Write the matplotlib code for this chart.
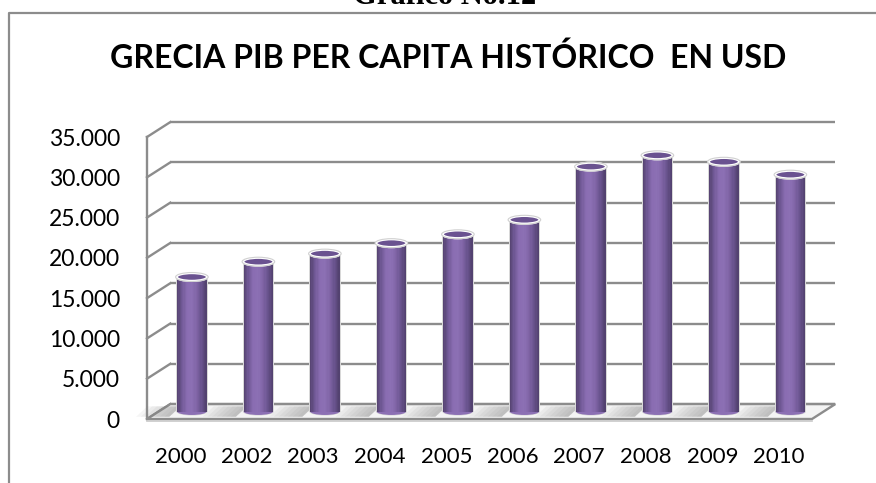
import matplotlib.pyplot as plt
import numpy as np
from matplotlib.patches import Ellipse, Polygon, Rectangle
from matplotlib.colors import LinearSegmentedColormap

# datos
anios = ['2000', '2002', '2003', '2004', '2005', '2006', '2007', '2008', '2009', '2010']
pib = [16700, 18600, 19600, 20900, 22000, 23800, 30400, 31800, 31000, 29400]
marcas = [0, 5000, 10000, 15000, 20000, 25000, 30000, 35000]
etiquetas = ['0', '5.000', '10.000', '15.000', '20.000', '25.000', '30.000', '35.000']

plt.rcParams['font.family'] = ['Lato', 'DejaVu Sans']

fig = plt.figure(figsize=(8.76, 4.83), dpi=100)
ax = fig.add_axes([147 / 876, 64 / 483, 665 / 876, 282 / 483])
ax.set_xlim(0, len(anios))
ax.set_ylim(0, 35000)
ax.patch.set_visible(False)
for s in ax.spines.values():
    s.set_visible(False)

# profundidad del efecto 3d (en unidades de datos)
DX = 0.35
DY = 1850
gris = '#8c8c8c'
n = len(anios)

# pared del fondo y pared izquierda
for m in marcas:
    ax.plot([DX, n + DX], [m + DY, m + DY], color=gris, lw=1.7, clip_on=False, zorder=1,
            solid_capstyle='butt')
    ax.plot([0, DX], [m, m + DY], color=gris, lw=1.7, clip_on=False, zorder=1)
ax.plot([0, 0], [0, 35000], color=gris, lw=1.7, clip_on=False, zorder=1)

# suelo
suelo = Polygon([(0, 0), (n, 0), (n + DX, DY), (DX, DY)], closed=True,
                facecolor='#f4f4f4', edgecolor=gris, lw=1.7, clip_on=False, zorder=2)
ax.add_patch(suelo)
ax.plot([0, n], [-250, -250], color='#c8c8c8', lw=1.2, clip_on=False, zorder=2)

# sombras en el suelo
w = 0.44
for i in range(n):
    cx = i + 0.5 + DX / 2
    for k in range(7):
        largo = 0.5 * (k + 1) / 7
        sx = cx - w / 2
        sh = Polygon([(sx - largo - 0.12, DY * 0.15), (sx - 0.12, DY * 0.15),
                      (sx + 0.05, DY * 0.85), (sx - largo + 0.05, DY * 0.85)],
                     closed=True, facecolor='#808080', edgecolor='none', alpha=0.08,
                     clip_on=False, zorder=3)
        ax.add_patch(sh)

# cilindros
cmap = LinearSegmentedColormap.from_list(
    'morado', ['#54426f', '#725a98', '#8a6db2', '#8c70b4', '#7f64a5', '#68528c', '#50406c'])
tiras = 24
eh = 850
for i, v in enumerate(pib):
    cx = i + 0.5 + DX / 2
    base = DY / 2
    x0 = cx - w / 2
    # contorno claro
    ax.add_patch(Rectangle((x0 - 0.015, base), w + 0.03, v, facecolor='#d8d8d8',
                           edgecolor='none', clip_on=False, zorder=4))
    ax.add_patch(Ellipse((cx, base), w + 0.03, eh + 150, facecolor='#d8d8d8',
                         edgecolor='none', clip_on=False, zorder=4))
    ax.add_patch(Ellipse((cx, base), w, eh, facecolor=cmap(0.5),
                         edgecolor='none', clip_on=False, zorder=5))
    dx = w / tiras
    for k in range(tiras):
        ax.bar(x0 + (k + 0.5) * dx, v, width=dx * 1.05, bottom=base,
               color=cmap((k + 0.5) / tiras), edgecolor='none', clip_on=False, zorder=5)
    ax.add_patch(Ellipse((cx, base + v), w + 0.02, eh + 120, facecolor='#6a5290',
                         edgecolor='white', lw=1.6, clip_on=False, zorder=6))
    ax.add_patch(Ellipse((cx, base + v), w + 0.05, eh + 260, facecolor='none',
                         edgecolor='#d0d0d0', lw=0.8, clip_on=False, zorder=6))

# ejes
ax.set_yticks(marcas)
ax.set_yticklabels(etiquetas)
ax.set_xticks(np.arange(n) + 0.5)
ax.set_xticklabels(anios)
ax.tick_params(axis='y', length=0, pad=19.5, labelsize=16.5)
ax.tick_params(axis='x', length=0, pad=20, labelsize=16)

# titulo y marco
fig.text(448 / 876, 1 - 68 / 483, 'GRECIA PIB PER CAPITA HISTÓRICO  EN USD', ha='center',
         va='baseline', fontsize=23, fontweight='bold')
fig.text(445 / 876, 1 - 4 / 483, 'Gráfico No.12', ha='center', va='baseline',
         fontsize=22, fontweight='bold', family='Liberation Serif')
fig.add_artist(plt.Line2D([8.7 / 876, 8.7 / 876, 1.0], [0, 1 - 12.7 / 483, 1 - 12.7 / 483],
                          color=gris, lw=1.6))

fig.savefig('out.png', dpi=100)
